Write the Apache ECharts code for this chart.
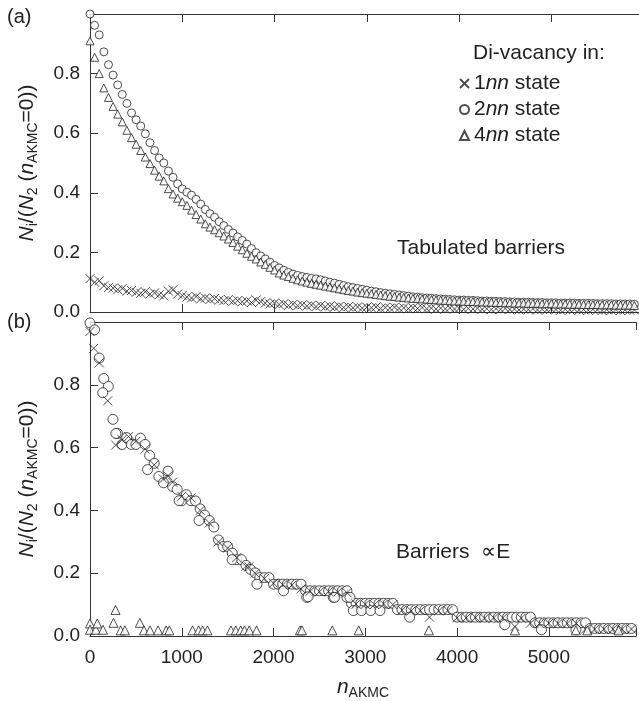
<!DOCTYPE html>
<html>
<head>
<meta charset="utf-8">
<script src="https://cdn.jsdelivr.net/npm/echarts@6/dist/echarts.min.js"></script>
<style>
  html, body { margin: 0; padding: 0; background: #fff; }
  #chart { width: 639px; height: 701px; }
</style>
</head>
<body>
<div id="chart"></div>
<script>
// AKMC step grid shared by the dense series
var nSteps = [0,50,100,150,200,250,300,350,400,450,500,550,600,650,700,750,800,850,900,950,
  1000,1050,1100,1150,1200,1250,1300,1350,1400,1450,1500,1550,1600,1650,1700,1750,1800,1850,1900,1950,
  2000,2050,2100,2150,2200,2250,2300,2350,2400,2450,2500,2550,2600,2650,2700,2750,2800,2850,2900,2950,
  3000,3050,3100,3150,3200,3250,3300,3350,3400,3450,3500,3550,3600,3650,3700,3750,3800,3850,3900,3950,
  4000,4050,4100,4150,4200,4250,4300,4350,4400,4450,4500,4550,4600,4650,4700,4750,4800,4850,4900,4950,
  5000,5050,5100,5150,5200,5250,5300,5350,5400,5450,5500,5550,5600,5650,5700,5750,5800,5850,5900];

// (a) tabulated barriers
var circA = [1.0,0.962,0.93,0.873,0.83,0.795,0.762,0.73,0.7,0.668,0.645,0.624,0.598,0.568,0.542,0.517,0.5,0.473,0.452,0.43,
  0.413,0.402,0.392,0.378,0.362,0.344,0.33,0.318,0.303,0.29,0.277,0.265,0.252,0.24,0.228,0.213,0.199,0.188,0.178,0.167,
  0.156,0.148,0.14,0.133,0.127,0.123,0.119,0.116,0.113,0.111,0.108,0.104,0.1,0.097,0.093,0.089,0.085,0.082,0.079,0.076,
  0.073,0.07,0.068,0.065,0.063,0.061,0.059,0.057,0.055,0.053,0.051,0.05,0.048,0.047,0.046,0.045,0.044,0.043,0.042,0.041,
  0.04,0.04,0.039,0.039,0.038,0.037,0.037,0.036,0.036,0.035,0.035,0.034,0.034,0.033,0.033,0.033,0.032,0.032,0.032,0.031,
  0.031,0.031,0.03,0.03,0.03,0.03,0.029,0.029,0.029,0.029,0.028,0.028,0.028,0.028,0.027,0.027,0.027,0.027,0.026];
var triA = [0.91,0.855,0.8,0.752,0.72,0.69,0.664,0.638,0.61,0.585,0.563,0.542,0.52,0.498,0.476,0.456,0.44,0.414,0.396,0.382,
  0.37,0.358,0.342,0.327,0.312,0.296,0.285,0.276,0.266,0.255,0.245,0.233,0.221,0.209,0.197,0.187,0.178,0.168,0.16,0.15,
  0.141,0.131,0.124,0.119,0.113,0.108,0.104,0.1,0.096,0.093,0.09,0.087,0.084,0.081,0.078,0.075,0.072,0.07,0.067,0.065,
  0.063,0.061,0.059,0.057,0.055,0.053,0.052,0.05,0.049,0.047,0.046,0.045,0.044,0.043,0.042,0.041,0.04,0.039,0.038,0.037,
  0.037,0.036,0.035,0.035,0.034,0.034,0.033,0.033,0.032,0.032,0.031,0.031,0.03,0.03,0.03,0.029,0.029,0.029,0.028,0.028,
  0.028,0.027,0.027,0.027,0.026,0.026,0.026,0.025,0.025,0.025,0.025,0.024,0.024,0.024,0.023,0.023,0.023,0.023,0.022];
var crossA = [0.112,0.1,0.105,0.088,0.082,0.08,0.075,0.079,0.07,0.072,0.066,0.063,0.068,0.06,0.064,0.058,0.054,0.07,0.075,0.06,
  0.055,0.05,0.047,0.052,0.044,0.047,0.042,0.045,0.04,0.038,0.042,0.036,0.038,0.034,0.037,0.032,0.04,0.035,0.03,0.027,
  0.03,0.025,0.028,0.022,0.026,0.021,0.024,0.02,0.023,0.018,0.022,0.017,0.02,0.016,0.019,0.015,0.018,0.014,0.017,0.013,
  0.016,0.014,0.017,0.012,0.015,0.013,0.016,0.012,0.014,0.011,0.014,0.012,0.015,0.011,0.013,0.01,0.013,0.011,0.014,0.01,
  0.012,0.009,0.012,0.01,0.013,0.009,0.011,0.008,0.011,0.009,0.012,0.008,0.01,0.007,0.01,0.008,0.011,0.007,0.009,0.007,
  0.01,0.008,0.006,0.009,0.007,0.01,0.006,0.008,0.006,0.009,0.007,0.005,0.008,0.006,0.008,0.005,0.007,0.006,0.007];

// (b) barriers proportional to E
var circB = [0.997,0.975,0.885,0.82,0.795,0.69,0.645,0.61,0.632,0.61,0.61,0.63,0.61,0.575,0.55,0.508,0.488,0.525,0.476,0.467,
  0.431,0.45,0.431,0.43,0.405,0.385,0.368,0.347,0.306,0.285,0.285,0.264,0.243,0.243,0.225,0.212,0.201,0.186,0.186,0.186,
  0.165,0.165,0.165,0.165,0.165,0.165,0.165,0.144,0.144,0.144,0.144,0.144,0.144,0.144,0.144,0.144,0.144,0.104,0.104,0.104,
  0.104,0.104,0.104,0.104,0.104,0.104,0.104,0.084,0.084,0.084,0.084,0.084,0.084,0.084,0.084,0.084,0.084,0.084,0.084,0.084,
  0.06,0.06,0.06,0.06,0.06,0.06,0.06,0.06,0.06,0.06,0.06,0.06,0.06,0.06,0.06,0.06,0.06,0.042,0.042,0.042,
  0.042,0.042,0.042,0.042,0.042,0.042,0.042,0.042,0.042,0.024,0.024,0.024,0.024,0.024,0.024,0.024,0.024,0.024,0.024];
var circBExtraN = [139,282,627,971,1188,1549,1820,2109,2362,2377,2651,2665,2800,2833,2870,2960,3060,3160,3483,4520,4920,5295];
var circBExtraV = [0.775,0.645,0.53,0.431,0.368,0.243,0.165,0.144,0.123,0.125,0.123,0.123,0.123,0.123,0.081,0.081,0.081,0.081,0.06,0.036,0.02,0.02];
var crossBN = [0,41,100,193,280,350,420,500,600,700,800,850,900,1000,1100,1200,1300,1400,1500,1600,1700,1730,1800,1900,
  2000,2100,2200,2300,2400,2500,2600,2700,2800,2900,3000,3100,3200,3300,3400,3500,3600,3700,3800,3900,
  4000,4100,4200,4300,4400,4500,4631,4700,4800,4900,5000,5100,5200,5300,5400,5500,5600,5700,5800,5900];
var crossBV = [0.97,0.916,0.87,0.749,0.608,0.625,0.635,0.62,0.595,0.545,0.5,0.51,0.49,0.445,0.44,0.4,0.36,0.3,0.28,0.25,0.222,0.22,0.2,0.183,
  0.168,0.163,0.162,0.15,0.143,0.141,0.142,0.14,0.138,0.102,0.101,0.1,0.102,0.1,0.082,0.08,0.081,0.06,0.08,0.081,
  0.058,0.058,0.059,0.057,0.058,0.058,0.03,0.057,0.041,0.04,0.041,0.04,0.04,0.04,0.022,0.022,0.022,0.022,0.022,0.022];
var triBN = [0,0,64,79,142,256,278,334,380,543,588,654,742,830,865,1117,1183,1227,1280,1536,1589,1642,1683,1736,1815,
  2288,2310,2641,2928,3693,4631,5294,5419,5759];
var triBV = [0.04,0.02,0.02,0.04,0.02,0.042,0.083,0.018,0.018,0.042,0.018,0.018,0.018,0.018,0.018,0.018,0.018,0.018,0.018,0.018,0.018,0.018,0.018,0.018,0.018,
  0.018,0.018,0.018,0.018,0.018,0.018,0.018,0.018,0.018];

var yTicks = [0, 0.2, 0.4, 0.6, 0.8, 1.0];
var xTicks = [0, 1000, 2000, 3000, 4000, 5000];

function pairs(xs, ys) {
  return xs.map(function (x, i) { return [x, ys[i]]; });
}

var font = 'Liberation Sans, Arial, sans-serif';
var ink = '#222';
var crossPath = 'path://M0,0L10,10M10,0L0,10';

function xAx(grid, pos, labels) {
  return {
    type: 'value', gridIndex: grid, position: pos,
    min: 0, max: 5950, interval: 1000,
    axisLine: { show: true, onZero: false, lineStyle: { color: '#333', width: 1 } },
    axisTick: { show: true, inside: true, length: 8, lineStyle: { color: '#333' } },
    axisLabel: { show: labels, margin: 12, fontSize: 19, color: ink, fontFamily: font,
      formatter: function (v) { return xTicks.indexOf(v) >= 0 ? String(v) : ''; } },
    splitLine: { show: false }
  };
}

var nameRich = {
  it: { fontSize: 21, fontStyle: 'italic', fontFamily: font, color: ink, lineHeight: 26 },
  rm: { fontSize: 21, fontFamily: font, color: ink, lineHeight: 26 },
  sub: { fontSize: 14, fontFamily: font, color: ink, lineHeight: 12, verticalAlign: 'bottom' }
};
var yName = '{it|N}{sub|i}{rm|/(}{it|N}{sub|2}{rm| (}{it|n}{sub|AKMC}{rm|=0))}';

function yAx(grid) {
  return {
    type: 'value', gridIndex: grid,
    min: 0, max: 1.0, interval: 0.2,
    name: yName, nameLocation: 'middle', nameRotate: 90, nameGap: 50,
    nameTextStyle: { rich: nameRich },
    axisLine: { show: true, lineStyle: { color: '#333', width: 1 } },
    axisTick: { show: true, inside: true, length: 8, lineStyle: { color: '#333' } },
    axisLabel: { margin: 10, fontSize: 19, color: ink, fontFamily: font,
      formatter: function (v) { return v >= 0.99 ? '' : v.toFixed(1); } },
    splitLine: { show: false }
  };
}

function circles(name, data, xi, size) {
  return { name: name, type: 'scatter', xAxisIndex: xi, yAxisIndex: xi === 0 ? 0 : 1, data: data,
    symbol: 'circle', symbolSize: size,
    itemStyle: { color: '#fff', borderColor: ink, borderWidth: 1 } };
}
function triangles(name, data, xi, size) {
  return { name: name, type: 'scatter', xAxisIndex: xi, yAxisIndex: xi === 0 ? 0 : 1, data: data,
    symbol: 'triangle', symbolSize: size,
    itemStyle: { color: '#fff', borderColor: ink, borderWidth: 1 } };
}
function crosses(name, data, xi, size) {
  return { name: name, type: 'scatter', xAxisIndex: xi, yAxisIndex: xi === 0 ? 0 : 1, data: data,
    symbol: crossPath, symbolSize: size,
    itemStyle: { color: 'transparent', borderColor: ink, borderWidth: 1 } };
}

var chart = echarts.init(document.getElementById('chart'));
chart.setOption({
  animation: false,
  backgroundColor: '#fff',
  grid: [
    { left: 90, top: 14, right: 0, height: 298 },
    { left: 90, top: 322, right: 0, height: 319 }
  ],
  xAxis: [
    xAx(0, 'bottom', false),
    Object.assign(xAx(1, 'bottom', true), {
      name: '{it|n}{sub|AKMC}', nameLocation: 'middle', nameGap: 38,
      nameTextStyle: { rich: nameRich }
    }),
    xAx(0, 'top', false),
    xAx(1, 'top', false)
  ],
  yAxis: [yAx(0), yAx(1)],
  legend: {
    orient: 'vertical', left: 454, top: 68, itemGap: 5,
    itemWidth: 9, itemHeight: 9, selectedMode: false,
    data: ['1nn', '2nn', '4nn'],
    formatter: function (name) { return '{r|' + name.charAt(0) + '}{i|nn}{r| state}'; },
    textStyle: {
      lineHeight: 20,
      rich: {
        r: { fontSize: 21, fontFamily: font, color: ink, lineHeight: 20 },
        i: { fontSize: 21, fontFamily: font, color: ink, fontStyle: 'italic', lineHeight: 20 }
      }
    }
  },
  graphic: [
    { type: 'text', x: 7, y: 17, style: { text: '(a)', font: '20px ' + font, fill: ink, verticalAlign: 'middle' } },
    { type: 'text', x: 7, y: 322, style: { text: '(b)', font: '20px ' + font, fill: ink, verticalAlign: 'middle' } },
    { type: 'text', x: 473, y: 53, style: { text: 'Di-vacancy in:', font: '21px ' + font, fill: ink, verticalAlign: 'middle' } },
    { type: 'text', x: 397, y: 248, style: { text: 'Tabulated barriers', font: '21px ' + font, fill: ink, verticalAlign: 'middle' } },
    { type: 'text', x: 396, y: 552, style: { text: 'Barriers  \u221DE', font: '21px ' + font, fill: ink, verticalAlign: 'middle' } }
  ],
  series: [
    crosses('1nn', pairs(nSteps, crossA), 0, 9),
    circles('2nn', pairs(nSteps, circA), 0, 8),
    triangles('4nn', pairs(nSteps, triA), 0, 8),
    circles('2nn', pairs(nSteps, circB).concat(pairs(circBExtraN, circBExtraV)), 1, 10),
    crosses('1nn', pairs(crossBN, crossBV), 1, 9),
    triangles('4nn', pairs(triBN, triBV), 1, 9)
  ]
});
</script>
</body>
</html>
